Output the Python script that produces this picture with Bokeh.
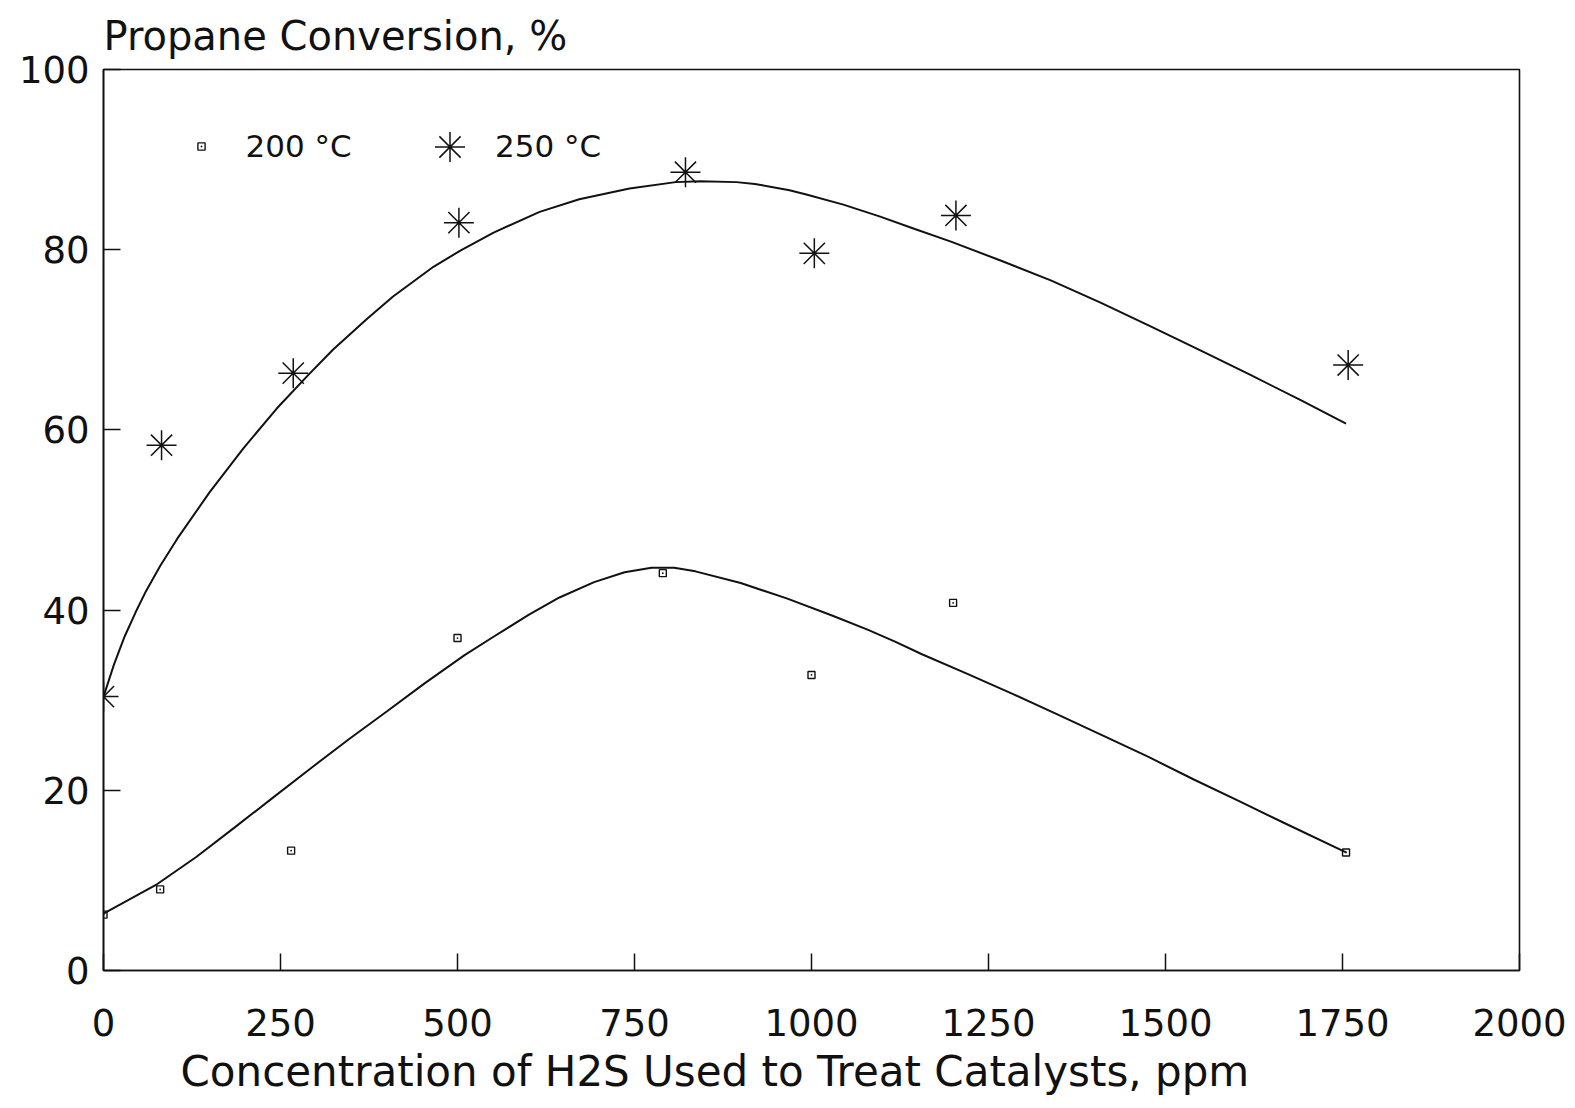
from bokeh.plotting import figure
from bokeh.models import Range1d, FixedTicker, Legend, LegendItem, Title
from bokeh.embed import file_html
from bokeh.resources import INLINE

# Measured propane conversion (%) versus H2S treatment concentration (ppm)
h2s_200 = [0, 80, 265, 500, 790, 1000, 1200, 1755]
conv_200 = [6.2, 9.0, 13.3, 36.9, 44.1, 32.8, 40.8, 13.1]

h2s_250 = [0, 82, 268, 502, 822, 1004, 1204, 1758]
conv_250 = [30.4, 58.3, 66.3, 83.0, 88.6, 79.6, 83.8, 67.2]

# Smoothed trend curves through each data set
trend_x_200 = [0, 76, 131, 184, 238, 292, 347, 401, 454, 510, 552, 601, 644, 693,
               736, 774, 806, 836, 900, 965, 1029, 1080, 1118, 1156, 1221, 1284,
               1348, 1411, 1476, 1540, 1604, 1667, 1755]
trend_y_200 = [6.3, 9.6, 12.6, 15.8, 19.1, 22.4, 25.7, 28.8, 31.9, 35.0, 37.1, 39.5,
               41.4, 43.1, 44.2, 44.7, 44.7, 44.3, 43.0, 41.3, 39.4, 37.8, 36.5, 35.1,
               32.9, 30.7, 28.4, 26.1, 23.7, 21.2, 18.8, 16.4, 13.1]

trend_x_250 = [0, 15, 30, 45, 60, 80, 104, 150, 197, 245, 288, 324, 372, 409, 466,
               504, 551, 616, 672, 743, 808, 843, 894, 920, 969, 994, 1045, 1096,
               1146, 1197, 1267, 1338, 1409, 1479, 1550, 1620, 1691, 1755]
trend_y_250 = [30.4, 34.0, 37.1, 39.7, 42.1, 44.9, 47.9, 53.1, 57.9, 62.4, 66.0, 68.9,
               72.3, 74.8, 78.1, 79.9, 81.9, 84.2, 85.6, 86.8, 87.5, 87.6, 87.5, 87.3,
               86.6, 86.1, 85.0, 83.7, 82.3, 80.9, 78.8, 76.6, 74.1, 71.5, 68.8, 66.1,
               63.3, 60.7]

x_ticks = [0, 250, 500, 750, 1000, 1250, 1500, 1750, 2000]
y_ticks = [0, 20, 40, 60, 80, 100]

FONT = "DejaVu Sans"
INK = "#111111"

p = figure(width=1575, height=1108,
           x_range=Range1d(0, 2000), y_range=Range1d(0, 100),
           output_backend="svg", toolbar_location=None,
           min_border_left=103, min_border_right=56,
           min_border_top=68, min_border_bottom=138)

p.background_fill_color = "white"
p.border_fill_color = "white"
p.grid.visible = False
p.outline_line_color = INK
p.outline_line_width = 1.6

# Axis title sits above the plot, left aligned
p.title.text = "Propane Conversion, %"
p.title.align = "left"
p.title.text_font = FONT
p.title.text_font_size = "40px"
p.title.text_font_style = "normal"
p.title.text_color = INK
p.title.standoff = 21

for ax, ticks in ((p.xaxis[0], x_ticks), (p.yaxis[0], y_ticks)):
    ax.ticker = FixedTicker(ticks=ticks)
    ax.major_tick_in = 17
    ax.major_tick_out = 0
    ax.minor_tick_line_color = None
    ax.major_tick_line_color = INK
    ax.major_tick_line_width = 1.5
    ax.axis_line_color = INK
    ax.axis_line_width = 1.6
    ax.major_label_text_font = FONT
    ax.major_label_text_font_size = "37px"
    ax.major_label_text_color = INK

p.xaxis.major_label_standoff = 38
p.yaxis.major_label_standoff = 14

p.add_layout(Title(text="Concentration of H2S Used to Treat Catalysts, ppm",
                   align="left", offset=77, text_font=FONT,
                   text_font_size="42px", text_font_style="normal",
                   text_color=INK, standoff=12), "below")

# Trend curves
p.line(trend_x_250, trend_y_250, line_color=INK, line_width=2)
p.line(trend_x_200, trend_y_200, line_color=INK, line_width=2)

# Data points
r200 = p.scatter(h2s_200, conv_200, marker="square_dot", size=7,
                 fill_color=None, line_color=INK, line_width=1.4)
r250 = p.scatter(h2s_250, conv_250, marker="asterisk", size=30,
                 line_color=INK, line_width=1.5)

legend_common = dict(padding=0, margin=0, border_line_color=None,
                     background_fill_alpha=0, label_text_font=FONT,
                     label_text_font_size="31px", label_text_color=INK)

leg200 = Legend(items=[LegendItem(label="200 °C", renderers=[r200])],
                location=(88.5, 806), glyph_width=18, glyph_height=36,
                label_standoff=36, **legend_common)
leg250 = Legend(items=[LegendItem(label="250 °C", renderers=[r250])],
                location=(309, 786.5), glyph_width=75, glyph_height=75,
                label_standoff=8, **legend_common)
p.add_layout(leg200)
p.add_layout(leg250)

open("out.html", "w").write(file_html(p, INLINE))
